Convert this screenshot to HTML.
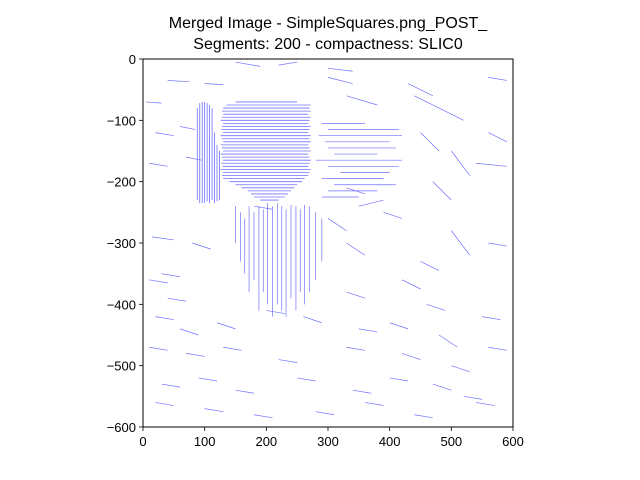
<!DOCTYPE html>
<html><head><meta charset="utf-8"><style>
body{margin:0;background:#fff;}
svg{display:block;font-family:"Liberation Sans","DejaVu Sans",sans-serif;}
</style></head><body>
<svg id="chart" width="640" height="480">
<text x="328" y="28" text-anchor="middle" font-size="16">Merged Image - SimpleSquares.png_POST_</text>
<text x="328" y="49" text-anchor="middle" font-size="16">Segments: 200 - compactness: SLIC0</text>
<g id="marks"></g>
<rect x="143" y="59" width="370" height="368" fill="none" stroke="#000" stroke-width="1"/>
<g id="axes"></g>
</svg>
<script>
const xTicks=[0,100,200,300,400,500,600];
const yTicks=[0,-100,-200,-300,-400,-500,-600];
const denseRowsY=[-70,-75,-80,-85,-90,-95,-100,-105,-110,-115,-120,-125,-130,-135,-140,-145,-150,-155,-160,-165,-170,-175,-180,-185,-190,-195,-200,-205,-210,-215,-220,-225,-230];
const denseRowsX0=[150,135,130,128,130,128,126,130,128,127,130,126,128,130,126,128,130,126,128,130,127,129,126,130,128,130,140,150,160,170,175,180,190];
const denseRowsX1=[250,272,270,272,268,272,270,268,272,270,268,272,270,272,268,270,272,268,270,272,270,268,272,270,268,262,258,250,245,240,235,230,220];
const leftColsX=[88,92,96,100,104,108,112,116,120,124];
const leftColsY0=[-80,-72,-70,-70,-72,-75,-80,-120,-140,-150];
const leftColsY1=[-230,-235,-235,-235,-232,-235,-230,-235,-232,-230];
const rightRowsY=[-105,-115,-125,-135,-145,-155,-165,-175,-185,-195,-205,-215,-225];
const rightRowsX0=[290,300,285,295,300,310,280,300,320,290,310,300,290];
const rightRowsX1=[360,415,420,400,410,380,420,415,400,390,410,380,350];
const lowColsX=[150,158,165,172,180,188,195,202,210,218,225,232,240,248,255,262,270,280,290];
const lowColsY0=[-240,-250,-260,-240,-250,-240,-245,-235,-240,-235,-240,-245,-238,-240,-245,-238,-240,-250,-260];
const lowColsY1=[-300,-330,-350,-380,-360,-410,-380,-400,-420,-400,-410,-420,-390,-410,-380,-400,-380,-360,-330];
const strokesX0=[40,5,100,150,220,300,330,430,480,20,60,10,70,180,350,390,450,500,540,15,80,10,30,300,330,450,500,560,330,420,460,20,60,120,200,260,350,400,480,550,10,70,130,220,330,420,500,560,30,90,150,250,340,400,470,520,20,100,180,280,360,440,540,330,470,560,440,560,40,300];
const strokesY0=[-35,-70,-40,-5,-10,-30,-60,-40,-80,-120,-110,-170,-160,-240,-240,-250,-120,-150,-170,-290,-300,-360,-350,-260,-300,-330,-280,-300,-380,-360,-400,-420,-440,-430,-410,-420,-440,-430,-450,-420,-470,-480,-470,-490,-470,-480,-500,-470,-530,-520,-540,-520,-540,-520,-530,-550,-560,-570,-580,-575,-560,-580,-560,-210,-200,-120,-60,-30,-390,-15];
const strokesX1=[75,30,130,190,250,340,380,470,520,50,85,40,95,210,390,420,480,530,590,50,110,40,60,330,360,480,530,590,360,450,490,50,90,150,230,290,380,430,510,580,40,100,160,250,360,450,530,590,60,120,180,280,370,430,500,550,50,130,210,310,390,470,570,360,500,590,480,590,70,340];
const strokesY1=[-37,-72,-42,-12,-5,-40,-75,-60,-100,-125,-115,-175,-165,-245,-230,-260,-150,-190,-175,-295,-310,-365,-355,-280,-320,-345,-320,-305,-390,-375,-410,-425,-450,-440,-415,-430,-445,-440,-470,-425,-475,-485,-475,-495,-475,-490,-510,-475,-535,-525,-545,-525,-545,-525,-540,-555,-565,-575,-585,-580,-565,-585,-565,-220,-230,-135,-80,-35,-395,-20];
const sx=v=>143+v*370/600, sy=v=>59+(-v)*368/600;
const NS="http://www.w3.org/2000/svg";
const marks=document.getElementById('marks'), axes=document.getElementById('axes');
function line(p,x1,y1,x2,y2,c,w){const l=document.createElementNS(NS,'line');l.setAttribute('x1',x1);l.setAttribute('y1',y1);l.setAttribute('x2',x2);l.setAttribute('y2',y2);l.setAttribute('stroke',c);l.setAttribute('stroke-width',w);p.appendChild(l);return l;}
function txt(p,x,y,s,a){const t=document.createElementNS(NS,'text');t.setAttribute('x',x);t.setAttribute('y',y);t.setAttribute('text-anchor',a);t.setAttribute('font-size','13');t.textContent=s;p.appendChild(t);return t;}
const blue='#7070ff';
denseRowsY.forEach((y,i)=>{const l=line(marks,sx(denseRowsX0[i]),sy(y),sx(denseRowsX1[i]),sy(y),blue,0.8);

});
leftColsX.forEach((x,i)=>{const l=line(marks,sx(x),sy(leftColsY0[i]),sx(x),sy(leftColsY1[i]),blue,0.8);

});
rightRowsY.forEach((y,i)=>{const l=line(marks,sx(rightRowsX0[i]),sy(y),sx(rightRowsX1[i]),sy(y),blue,0.7);

});
lowColsX.forEach((x,i)=>{const l=line(marks,sx(x),sy(lowColsY0[i]),sx(x),sy(lowColsY1[i]),blue,0.7);

});
strokesX0.forEach((x,i)=>{const l=line(marks,sx(x),sy(strokesY0[i]),sx(strokesX1[i]),sy(strokesY1[i]),blue,0.7);

});
xTicks.forEach(v=>{line(axes,sx(v),427,sx(v),431,'#000',0.8);const t=txt(axes,sx(v),446,String(v),'middle');

});
yTicks.forEach(v=>{line(axes,139,sy(v),143,sy(v),'#000',0.8);const t=txt(axes,136,sy(v)+5,v<0?'\u2212'+(-v):String(v),'end');

});
</script>
</body></html>
